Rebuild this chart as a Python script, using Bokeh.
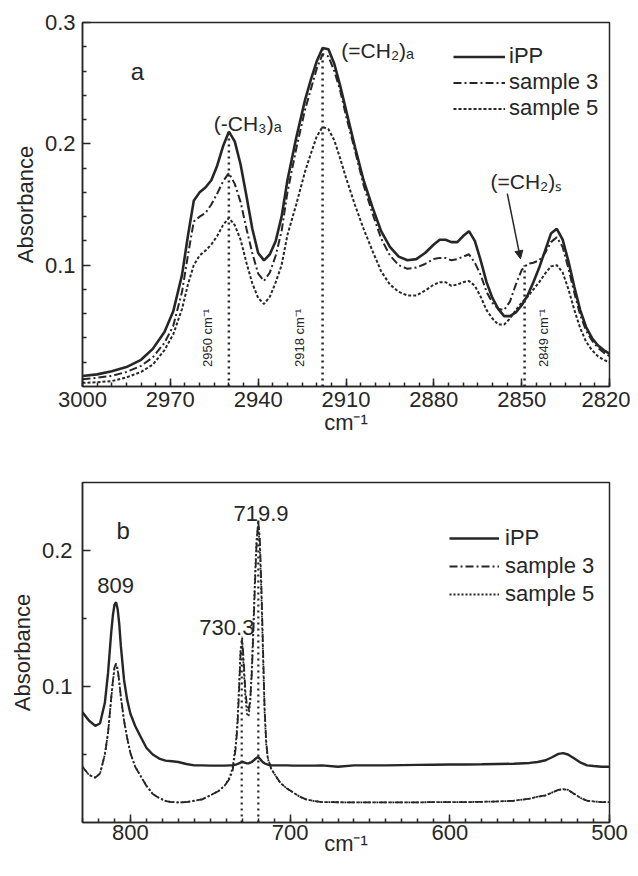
import math
from bokeh.plotting import figure
from bokeh.models import (Range1d, FixedTicker, Label, Arrow, NormalHead,
                          Legend, LegendItem, ColumnDataSource)
from bokeh.layouts import column
from bokeh.embed import file_html
from bokeh.resources import INLINE

# ---------------- panel a data (C-H stretching region) ----------------
wn_a = [3000, 2995, 2990, 2985, 2980, 2976, 2972, 2969, 2966, 2964, 2962, 2960,
        2958, 2956, 2954, 2952, 2950, 2948, 2946, 2944, 2942, 2940, 2938, 2936,
        2934, 2932, 2930, 2927, 2924, 2922, 2920, 2918, 2916, 2914, 2912, 2910,
        2907, 2904, 2901, 2898, 2895, 2892, 2889, 2886, 2883, 2880, 2878, 2876,
        2874, 2872, 2870, 2868, 2866, 2864, 2862, 2860, 2858, 2856, 2854, 2852,
        2850, 2848, 2846, 2844, 2842, 2840, 2838, 2836, 2834, 2832, 2830, 2828,
        2826, 2824, 2822, 2820]
ipp_a = [0.0087, 0.010, 0.0125, 0.016, 0.022, 0.031, 0.045, 0.062, 0.092, 0.124,
         0.153, 0.160, 0.164, 0.170, 0.182, 0.198, 0.210, 0.202, 0.183, 0.157,
         0.130, 0.110, 0.104, 0.109, 0.120, 0.140, 0.170, 0.205, 0.236, 0.253,
         0.268, 0.279, 0.278, 0.266, 0.248, 0.228, 0.198, 0.170, 0.148, 0.128,
         0.115, 0.107, 0.104, 0.105, 0.110, 0.117, 0.121, 0.121, 0.119, 0.119,
         0.124, 0.128, 0.120, 0.104, 0.086, 0.073, 0.064, 0.058, 0.058, 0.061,
         0.067, 0.075, 0.086, 0.098, 0.112, 0.126, 0.130, 0.121, 0.103, 0.082,
         0.063, 0.049, 0.040, 0.034, 0.030, 0.027]
s3_a = [0.006, 0.0072, 0.0088, 0.012, 0.017, 0.024, 0.036, 0.050, 0.078, 0.108,
        0.136, 0.140, 0.143, 0.150, 0.159, 0.169, 0.176, 0.167, 0.152, 0.130,
        0.110, 0.093, 0.087, 0.094, 0.108, 0.128, 0.160, 0.196, 0.228, 0.245,
        0.262, 0.274, 0.272, 0.260, 0.244, 0.223, 0.195, 0.166, 0.143, 0.122,
        0.108, 0.100, 0.097, 0.098, 0.101, 0.105, 0.106, 0.106, 0.104, 0.105,
        0.107, 0.109, 0.102, 0.092, 0.078, 0.069, 0.064, 0.063, 0.070, 0.084,
        0.096, 0.101, 0.102, 0.104, 0.110, 0.119, 0.123, 0.115, 0.097, 0.077,
        0.059, 0.046, 0.038, 0.032, 0.028, 0.025]
s5_a = [0.003, 0.0035, 0.0045, 0.0075, 0.012, 0.018, 0.030, 0.043, 0.064, 0.084,
        0.100, 0.108, 0.112, 0.117, 0.124, 0.133, 0.139, 0.133, 0.121, 0.102,
        0.085, 0.073, 0.068, 0.074, 0.086, 0.100, 0.125, 0.150, 0.177, 0.192,
        0.206, 0.214, 0.212, 0.203, 0.188, 0.172, 0.150, 0.130, 0.112, 0.095,
        0.084, 0.078, 0.075, 0.075, 0.079, 0.084, 0.086, 0.086, 0.083, 0.084,
        0.086, 0.087, 0.083, 0.074, 0.063, 0.056, 0.051, 0.051, 0.056, 0.063,
        0.069, 0.074, 0.080, 0.086, 0.093, 0.099, 0.100, 0.094, 0.080, 0.063,
        0.048, 0.037, 0.030, 0.025, 0.022, 0.020]
mark_a_x = [2950, 2918, 2849]
mark_a_y = [0.210, 0.279, 0.100]
mark_a_txt = ["2950 cm\u207b\u00b9", "2918 cm\u207b\u00b9", "2849 cm\u207b\u00b9"]

# ---------------- panel b data (rocking region) ----------------
wn_b = [830, 826, 822, 819, 816, 814, 812, 811, 810, 809, 808, 807, 806, 804, 802,
        800, 797, 794, 790, 786, 782, 778, 774, 770, 765, 760, 755, 750, 745, 741,
        738, 736, 734, 733, 732, 731, 730, 729, 728, 727, 726, 725, 724, 723, 722,
        721, 720, 719, 718, 717, 716, 715, 714, 712, 710, 706, 702, 698, 694, 690,
        685, 680, 670, 660, 650, 640, 630, 620, 610, 600, 590, 580, 570, 560, 550,
        545, 540, 536, 532, 529, 526, 522, 518, 514, 510, 505, 500]
ipp_b = [0.081, 0.075, 0.071, 0.073, 0.088, 0.110, 0.140, 0.152, 0.160, 0.162,
         0.157, 0.146, 0.130, 0.105, 0.090, 0.080, 0.071, 0.064, 0.055, 0.050,
         0.047, 0.0455, 0.045, 0.0445, 0.043, 0.042, 0.042, 0.0418, 0.0418, 0.0418,
         0.042, 0.042, 0.0425, 0.043, 0.0435, 0.044, 0.0445, 0.0443, 0.0438, 0.0435,
         0.0435, 0.044, 0.0445, 0.0455, 0.0465, 0.0475, 0.048, 0.047, 0.0455, 0.0443,
         0.0435, 0.043, 0.0425, 0.042, 0.042, 0.042, 0.042, 0.0418, 0.0418, 0.0418,
         0.0418, 0.042, 0.041, 0.042, 0.042, 0.042, 0.0422, 0.0424, 0.0425, 0.0426,
         0.0427, 0.0428, 0.043, 0.0432, 0.0438, 0.0445, 0.0458, 0.048, 0.0505, 0.051,
         0.050, 0.047, 0.044, 0.042, 0.0415, 0.041, 0.041]
s3_b = [0.041, 0.035, 0.033, 0.036, 0.050, 0.066, 0.092, 0.104, 0.114, 0.117,
        0.113, 0.104, 0.093, 0.075, 0.062, 0.051, 0.041, 0.035, 0.027, 0.021,
        0.018, 0.0158, 0.015, 0.0148, 0.015, 0.016, 0.017, 0.020, 0.023, 0.027,
        0.032, 0.038, 0.055, 0.070, 0.095, 0.125, 0.136, 0.118, 0.097, 0.086,
        0.082, 0.090, 0.109, 0.140, 0.175, 0.205, 0.222, 0.210, 0.175, 0.130,
        0.085, 0.060, 0.048, 0.040, 0.036, 0.029, 0.025, 0.022, 0.019, 0.017,
        0.0158, 0.015, 0.0149, 0.0148, 0.0148, 0.0148, 0.0148, 0.0148, 0.015, 0.015,
        0.015, 0.0152, 0.0155, 0.016, 0.0175, 0.019, 0.020, 0.022, 0.024, 0.0245,
        0.024, 0.021, 0.018, 0.016, 0.0155, 0.015, 0.015]
s5_b = [0.041, 0.035, 0.033, 0.036, 0.050, 0.066, 0.091, 0.103, 0.113, 0.116,
        0.112, 0.103, 0.092, 0.075, 0.062, 0.051, 0.041, 0.035, 0.027, 0.021,
        0.018, 0.0158, 0.015, 0.0148, 0.015, 0.016, 0.017, 0.020, 0.023, 0.027,
        0.033, 0.040, 0.058, 0.074, 0.100, 0.128, 0.132, 0.112, 0.092, 0.080,
        0.078, 0.088, 0.112, 0.145, 0.180, 0.208, 0.218, 0.204, 0.168, 0.124,
        0.082, 0.058, 0.047, 0.040, 0.036, 0.029, 0.025, 0.022, 0.019, 0.017,
        0.0158, 0.015, 0.0149, 0.0148, 0.0148, 0.0148, 0.0148, 0.0148, 0.015, 0.015,
        0.015, 0.0152, 0.0155, 0.016, 0.0175, 0.019, 0.020, 0.022, 0.024, 0.0245,
        0.024, 0.021, 0.018, 0.016, 0.0155, 0.015, 0.015]
mark_b_x = [730.3, 719.9]
mark_b_y = [0.137, 0.222]

series_names = ["iPP", "sample 3", "sample 5"]

xt_a = [3000, 2970, 2940, 2910, 2880, 2850, 2820]
yt_a = [0.1, 0.2, 0.3]
xt_b = [800, 700, 600, 500]
yt_b = [0.1, 0.2]

INK = "#262626"
FONT = "Liberation Sans"


def style(p, xt, xminor, yt, yminor, xlabel, ylabel, ystand, xstand, xlstand):
    p.xaxis.ticker = FixedTicker(ticks=xt, minor_ticks=xminor)
    p.yaxis.ticker = FixedTicker(ticks=yt, minor_ticks=yminor)
    p.xaxis.axis_label = xlabel
    p.yaxis.axis_label = ylabel
    for ax in (p.xaxis[0], p.yaxis[0]):
        ax.major_tick_in = 8
        ax.major_tick_out = 0
        ax.minor_tick_in = 4
        ax.minor_tick_out = 0
        ax.major_tick_line_width = 1.5
        ax.minor_tick_line_width = 1.5
        ax.major_tick_line_color = INK
        ax.minor_tick_line_color = INK
        ax.axis_line_width = 1.5
        ax.axis_line_color = INK
        ax.major_label_text_font = FONT
        ax.major_label_text_font_size = "22px"
        ax.major_label_text_color = INK
        ax.axis_label_text_font = FONT
        ax.axis_label_text_font_size = "22px"
        ax.axis_label_text_font_style = "normal"
        ax.axis_label_text_color = INK
    p.xaxis.major_label_standoff = xstand
    p.xaxis.axis_label_standoff = xlstand
    p.yaxis.major_label_standoff = ystand
    p.yaxis.axis_label_standoff = 4
    p.xgrid.visible = False
    p.ygrid.visible = False
    p.outline_line_color = INK
    p.outline_line_width = 1.5
    p.outline_line_alpha = 1.0


def label(p, x, y, text, size, angle=0.0):
    p.add_layout(Label(x=x, y=y, text=text, text_font=FONT,
                       text_font_size=size, text_color=INK,
                       text_align="center", text_baseline="middle",
                       angle=angle))


# ================= panel a =================
p1 = figure(width=630, height=448, x_range=Range1d(3000, 2820),
            y_range=Range1d(0, 0.3), output_backend="svg",
            toolbar_location=None, title=None,
            min_border_left=82, min_border_right=21,
            min_border_top=22, min_border_bottom=62)
style(p1, xt_a, list(range(2820, 3001, 5)),
      yt_a, [0.02, 0.04, 0.06, 0.08, 0.12, 0.14, 0.16, 0.18, 0.22, 0.24, 0.26, 0.28],
      "cm\u207b\u00b9", "Absorbance", 7, 5, 0)

src_a = ColumnDataSource(dict(x=wn_a, ipp=ipp_a, s3=s3_a, s5=s5_a))
p1.segment(x0=mark_a_x, y0=[0] * len(mark_a_x), x1=mark_a_x, y1=mark_a_y,
           line_color=INK, line_width=2.5, line_dash="2 4")
r1 = p1.line("x", "ipp", source=src_a, line_color=INK, line_width=2.6)
r2 = p1.line("x", "s3", source=src_a, line_color=INK, line_width=2.0,
             line_dash="8 3 2 3")
r3 = p1.line("x", "s5", source=src_a, line_color=INK, line_width=2.0,
             line_dash="3 2")

leg1 = Legend(items=[LegendItem(label=n, renderers=[r]) for n, r in
                     zip(series_names, [r1, r2, r3])],
              location=(371, 265), border_line_color=None,
              background_fill_alpha=0, padding=0, margin=0, spacing=0,
              glyph_width=52, glyph_height=25, label_height=25,
              label_standoff=4, label_text_font=FONT,
              label_text_font_size="22px", label_text_color=INK)
p1.add_layout(leg1)

label(p1, 2981.2, 0.260, "a", "24px")
label(p1, 2943.6, 0.2167, "(-CH\u2083)\u2090", "21px")
label(p1, 2899.2, 0.277, "(=CH\u2082)\u2090", "21px")
label(p1, 2848.4, 0.1688, "(=CH\u2082)\u209b", "21px")
label(p1, 2957.3, 0.040, mark_a_txt[0], "13px", math.pi / 2)
label(p1, 2925.9, 0.040, mark_a_txt[1], "13px", math.pi / 2)
label(p1, 2842.6, 0.040, mark_a_txt[2], "13px", math.pi / 2)
p1.add_layout(Arrow(end=NormalHead(size=8, fill_color=INK, line_color=INK),
                    x_start=2854.9, y_start=0.1589, x_end=2850.4, y_end=0.1053,
                    line_color=INK, line_width=1.5))

# ================= panel b =================
p2 = figure(width=630, height=428, x_range=Range1d(830, 500),
            y_range=Range1d(0, 0.25), output_backend="svg",
            toolbar_location=None, title=None,
            min_border_left=80, min_border_right=10,
            min_border_top=34, min_border_bottom=54)
style(p2, xt_b, list(range(500, 831, 10)), yt_b, [0.05, 0.15],
      "cm\u207b\u00b9", "Absorbance", 10, 2, -12)

src_b = ColumnDataSource(dict(x=wn_b, ipp=ipp_b, s3=s3_b, s5=s5_b))
p2.segment(x0=mark_b_x, y0=[0] * len(mark_b_x), x1=mark_b_x, y1=mark_b_y,
           line_color=INK, line_width=2.2, line_dash="2 4")
q1 = p2.line("x", "ipp", source=src_b, line_color=INK, line_width=2.4)
q2 = p2.line("x", "s3", source=src_b, line_color=INK, line_width=1.8,
             line_dash="8 3 2 3")
q3 = p2.line("x", "s5", source=src_b, line_color=INK, line_width=1.8,
             line_dash="2 2")

leg2 = Legend(items=[LegendItem(label=n, renderers=[r]) for n, r in
                     zip(series_names, [q1, q2, q3])],
              location=(367, 214), border_line_color=None,
              background_fill_alpha=0, padding=0, margin=0, spacing=0,
              glyph_width=50, glyph_height=28, label_height=28,
              label_standoff=6, label_text_font=FONT,
              label_text_font_size="22px", label_text_color=INK)
p2.add_layout(leg2)

label(p2, 804.5, 0.2147, "b", "24px")
label(p2, 809.2, 0.1743, "809", "22px")
label(p2, 739.6, 0.1434, "730.3", "22px")
label(p2, 718.2, 0.2272, "719.9", "22px")

layout = column(p1, p2)
open("out.html", "w").write(file_html(layout, INLINE))
